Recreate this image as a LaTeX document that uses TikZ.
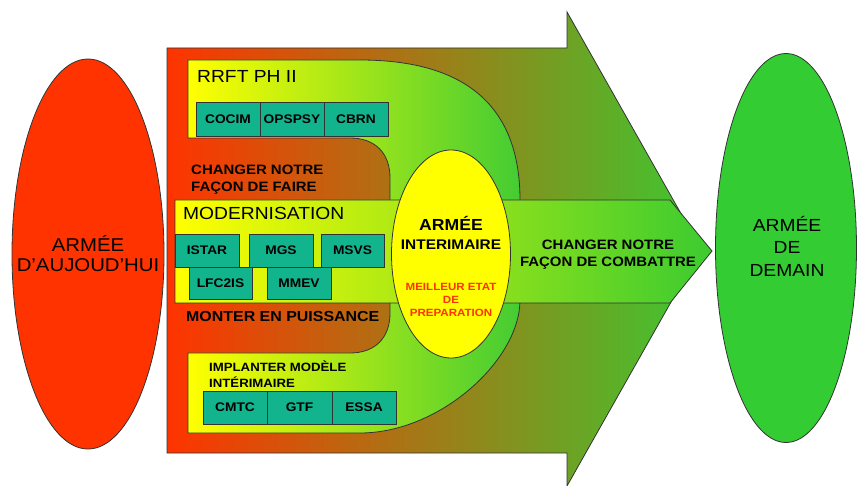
\documentclass[tikz,border=0pt]{standalone}
\usepackage{fontspec}
\setmainfont{Liberation Sans}[FakeStretch=1.1]
\usetikzlibrary{shapes.geometric}
\definecolor{redA}{HTML}{FF3300}
\definecolor{greenA}{HTML}{33CC33}
\definecolor{arrowmid}{HTML}{C47A24}
\definecolor{arrowright}{HTML}{3EC730}
\definecolor{yel}{HTML}{FFFF00}
\definecolor{dmid}{HTML}{C2E422}
\definecolor{dright}{HTML}{44CC33}
\definecolor{bandmid}{HTML}{A0DA2C}
\definecolor{bandright}{HTML}{3CCB30}
\definecolor{tealbox}{HTML}{12B48E}
\definecolor{lineC}{HTML}{333333}
\definecolor{redtxt}{HTML}{FF3300}
\begin{document}
\begin{tikzpicture}[x=1pt,y=-1pt,
  outl/.style={draw=lineC, line width=0.8pt},
  boxst/.style={outl, fill=tealbox, inner sep=0pt, font=\bfseries\fontsize{12.5}{14}\selectfont},
  wide/.style={minimum width=64pt},
  oval/.style={ellipse, outl, inner sep=0pt},
  lbl/.style={inner sep=0pt},
  hdr/.style={lbl, font=\fontsize{17.5}{20}\selectfont, anchor=base west},
  captxt/.style={lbl, font=\bfseries\fontsize{13.6}{16}\selectfont}
]
\useasboundingbox (0,0) rectangle (857,486);

% big arrow
\draw[outl, left color=redA, middle color=arrowmid, right color=arrowright]
  (167,48) -- (567,48) -- (567,12) -- (701,249) -- (567,486) -- (567,453) -- (167,453) -- cycle;

% D shaped band
\draw[outl, left color=yel, middle color=dmid, right color=dright]
  (188,60) -- (360,60) .. controls (470,60) and (520,110) .. (520,200)
  -- (520,300) .. controls (520,360) and (440,433) .. (360,433)
  -- (188,433) -- (188,353) -- (350,353) .. controls (375,353) and (390,338) .. (390,313)
  -- (390,178) .. controls (390,153) and (375,138) .. (350,138) -- (188,138) -- cycle;

% modernisation band
\draw[outl, left color=yel, middle color=bandmid, right color=bandright]
  (175,200) -- (670,200) -- (712,251) -- (670,303) -- (175,303) -- cycle;

% ellipses
\node[oval, fill=redA, minimum width=152pt, minimum height=390pt] (today) at (88,254) {};
\node[lbl, align=center, font=\fontsize{18.5}{20}\selectfont] (todaytxt) at (today.center) {ARMÉE\\D’AUJOUD’HUI};
\node[oval, fill=greenA, minimum width=141pt, minimum height=389pt] (tomorrow) at (786,248) {};
\node[lbl, align=center, font=\fontsize{17.5}{22.5}\selectfont] (tomorrowtxt) at (787,246) {ARMÉE\\DE\\DEMAIN};
\node[oval, fill=yel, minimum width=119pt, minimum height=208pt] (interim) at (451,254) {};

% interim texts
\node[lbl, anchor=base, font=\bfseries\fontsize{16}{18}\selectfont] (armeeI) at (451,230.7) {ARMÉE};
\node[lbl, anchor=base, font=\bfseries\fontsize{14}{16}\selectfont] (interimaire) at (451,250) {INTERIMAIRE};
\node[lbl, align=center, text=redtxt, font=\bfseries\fontsize{10.5}{13}\selectfont] (prep) at (451,300) {MEILLEUR ETAT\\DE\\PREPARATION};

% right caption
\node[captxt, anchor=base] (combat1) at (608,250) {CHANGER NOTRE};
\node[captxt, anchor=base] (combat2) at (608,267) {FAÇON DE COMBATTRE};

% left captions
\node[captxt, anchor=base west] (faire1) at (191,175) {CHANGER NOTRE};
\node[captxt, anchor=base west] (faire2) at (191,192) {FAÇON DE FAIRE};
\node[lbl, anchor=base west, font=\bfseries\fontsize{14.5}{16}\selectfont] (monter) at (186,322) {MONTER EN PUISSANCE};

% headers
\node[hdr] (rrft) at (197,82.3) {RRFT PH II};
\node[hdr] (modern) at (183,219.3) {MODERNISATION};
\node[lbl, anchor=base west, font=\bfseries\fontsize{12}{14}\selectfont] (impl1) at (209,371.3) {IMPLANTER MODÈLE};
\node[lbl, anchor=base west, font=\bfseries\fontsize{12}{14}\selectfont] (impl2) at (209,387.3) {INTÉRIMAIRE};

% RRFT boxes
\node[boxst, wide, minimum height=34pt] (cocim) at (228,119) {COCIM};
\node[boxst, wide, minimum height=34pt] (opspsy) at (292,119) {OPSPSY};
\node[boxst, wide, minimum height=34pt] (cbrn) at (356,119) {CBRN};

% modernisation boxes
\node[boxst, wide, minimum height=33pt] (istar) at (207,250.5) {ISTAR};
\node[boxst, wide, minimum height=33pt] (mgs) at (281,250.5) {MGS};
\node[boxst, minimum width=63pt, minimum height=33pt] (msvs) at (352.5,250.5) {MSVS};
\node[boxst, minimum width=63pt, minimum height=32pt] (lfc) at (220.5,283) {LFC2IS};
\node[boxst, wide, minimum height=32pt] (mmev) at (299,283) {MMEV};

% implanter boxes
\node[boxst, wide, minimum height=33pt] (cmtc) at (235,407.5) {CMTC};
\node[boxst, minimum width=65pt, minimum height=33pt] (gtf) at (299.5,407.5) {GTF};
\node[boxst, wide, minimum height=33pt] (essa) at (364,407.5) {ESSA};
\end{tikzpicture}
\end{document}
